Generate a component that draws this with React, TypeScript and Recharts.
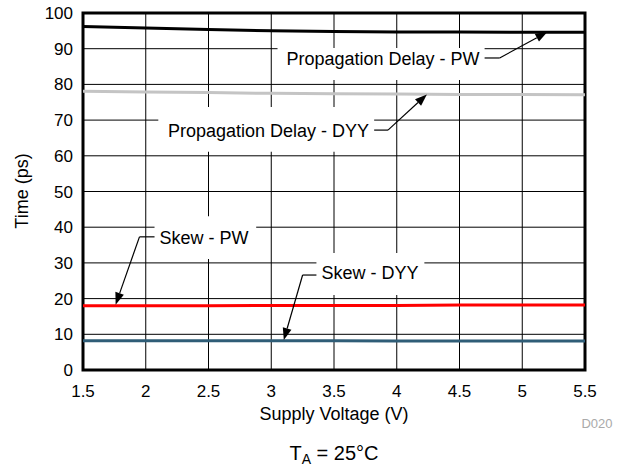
import {
  LineChart,
  Line,
  XAxis,
  YAxis,
  CartesianGrid,
  ReferenceArea,
  ReferenceLine,
  ReferenceDot,
} from "recharts";

const voltage = [1.5, 2, 2.5, 3, 3.5, 4, 4.5, 5, 5.5];
const propDelayPW = [96.2, 95.8, 95.4, 95.0, 94.8, 94.7, 94.7, 94.6, 94.6];
const propDelayDYY = [78.1, 77.9, 77.7, 77.5, 77.4, 77.3, 77.2, 77.2, 77.1];
const skewPW = [18.0, 18.0, 18.0, 18.1, 18.1, 18.1, 18.2, 18.2, 18.2];
const skewDYY = [8.2, 8.2, 8.2, 8.2, 8.2, 8.1, 8.1, 8.1, 8.1];

const xTicks = [1.5, 2, 2.5, 3, 3.5, 4, 4.5, 5, 5.5];
const yTicks = [0, 10, 20, 30, 40, 50, 60, 70, 80, 90, 100];

const data = voltage.map((v, i) => ({
  v,
  propPW: propDelayPW[i],
  propDYY: propDelayDYY[i],
  skewPW: skewPW[i],
  skewDYY: skewDYY[i],
}));

// callouts: label text, white box behind it, elbow and arrow to the curve
const notes = [
  {
    text: "Propagation Delay - PW",
    at: [4.66, 87.1],
    anchor: "end",
    box: [3.05, 4.7, 81.2, 90.2],
    elbow: [4.7, 4.82, 87.4],
    tip: [5.2, 94.7],
  },
  {
    text: "Propagation Delay - DYY",
    at: [3.78, 66.9],
    anchor: "end",
    box: [2.1, 3.82, 61.1, 73.7],
    elbow: [3.82, 3.93, 67.2],
    tip: [4.24, 77.2],
  },
  {
    text: "Skew - PW",
    at: [2.11, 37.0],
    anchor: "start",
    box: [2.07, 2.88, 31.1, 43.1],
    elbow: [2.07, 1.95, 37.3],
    tip: [1.76, 18.3],
  },
  {
    text: "Skew - DYY",
    at: [3.4, 27.2],
    anchor: "start",
    box: [3.36, 4.22, 21.0, 32.8],
    elbow: [3.36, 3.25, 26.6],
    tip: [3.1, 8.4],
  },
];

const font = "'Liberation Sans', Arial, Helvetica, sans-serif";

const Arrow = (p: any) => {
  const { x1, y1, x2, y2 } = p;
  const dx = x2 - x1;
  const dy = y2 - y1;
  const len = Math.sqrt(dx * dx + dy * dy) || 1;
  const ux = dx / len;
  const uy = dy / len;
  const L = 12;
  const W = 4.5;
  const bx = x2 - ux * L;
  const by = y2 - uy * L;
  const pts = `${x2},${y2} ${bx - uy * W},${by + ux * W} ${bx + uy * W},${by - ux * W}`;
  return (
    <g>
      <line x1={x1} y1={y1} x2={bx} y2={by} stroke="#000" strokeWidth={1.2} />
      <polygon points={pts} fill="#000" />
    </g>
  );
};

const BottomText = (p: any) => {
  const vb = p.viewBox || {};
  const cx = vb.x + vb.width / 2;
  return (
    <g fontFamily={font}>
      <text x={cx} y={420} textAnchor="middle" fontSize={18} fill="#000">
        Supply Voltage (V)
      </text>
      <text x={597} y={428} textAnchor="middle" fontSize={13} fill="#aaa">
        D020
      </text>
      <text x={334} y={460} textAnchor="middle" fontSize={20} fill="#000">
        T
        <tspan fontSize={14} dy={4}>
          A
        </tspan>
        <tspan dy={-4}> = 25°C</tspan>
      </text>
    </g>
  );
};

const SideText = () => (
  <text
    x={22}
    y={191}
    transform="rotate(-90 22 191)"
    textAnchor="middle"
    dominantBaseline="central"
    fontSize={18}
    fontFamily={font}
    fill="#000"
  >
    Time (ps)
  </text>
);

export default function App() {
  return (
    <div style={{ position: "absolute", left: 0, top: 0 }}>
      <LineChart
        width={622}
        height={466}
        data={data}
        margin={{ top: 13, right: 37, left: 0, bottom: 0 }}
      >
        <CartesianGrid stroke="#000" strokeWidth={1} />
        <XAxis
          dataKey="v"
          type="number"
          domain={[1.5, 5.5]}
          ticks={xTicks}
          height={96}
          tickSize={0}
          tickMargin={15}
          axisLine={false}
          tick={{ fill: "#000", fontSize: 17, fontFamily: font }}
          label={<BottomText />}
        />
        <YAxis
          type="number"
          domain={[0, 100]}
          ticks={yTicks}
          width={83}
          tickSize={0}
          tickMargin={10}
          axisLine={false}
          tick={{ fill: "#000", fontSize: 17, fontFamily: font }}
          label={<SideText />}
        />
        {notes.map((n) => (
          <ReferenceArea
            key={"box" + n.text}
            x1={n.box[0]}
            x2={n.box[1]}
            y1={n.box[2]}
            y2={n.box[3]}
            fill="#fff"
            fillOpacity={1}
            stroke="none"
          />
        ))}
        <Line dataKey="propPW" stroke="#000" strokeWidth={3} dot={false} isAnimationActive={false} />
        <Line dataKey="propDYY" stroke="#c4c4c4" strokeWidth={3} dot={false} isAnimationActive={false} />
        <Line dataKey="skewPW" stroke="#ff0000" strokeWidth={3} dot={false} isAnimationActive={false} />
        <Line dataKey="skewDYY" stroke="#2f5d77" strokeWidth={3} dot={false} isAnimationActive={false} />
        {notes.map((n) => (
          <ReferenceLine
            key={"elbow" + n.text}
            segment={[
              { x: n.elbow[0], y: n.elbow[2] },
              { x: n.elbow[1], y: n.elbow[2] },
            ]}
            stroke="#000"
            strokeWidth={1.2}
          />
        ))}
        {notes.map((n) => (
          <ReferenceLine
            key={"arrow" + n.text}
            segment={[
              { x: n.elbow[1], y: n.elbow[2] },
              { x: n.tip[0], y: n.tip[1] },
            ]}
            shape={Arrow}
          />
        ))}
        {notes.map((n) => (
          <ReferenceDot
            key={"label" + n.text}
            x={n.at[0]}
            y={n.at[1]}
            r={0}
            shape={(p: any) => (
              <text
                x={p.cx}
                y={p.cy}
                dy="0.35em"
                textAnchor={n.anchor}
                fontSize={18}
                fontFamily={font}
                fill="#000"
              >
                {n.text}
              </text>
            )}
          />
        ))}
        <ReferenceArea
          x1={1.5}
          x2={5.5}
          y1={0}
          y2={100}
          fill="none"
          stroke="#000"
          strokeWidth={3}
        />
      </LineChart>
    </div>
  );
}
